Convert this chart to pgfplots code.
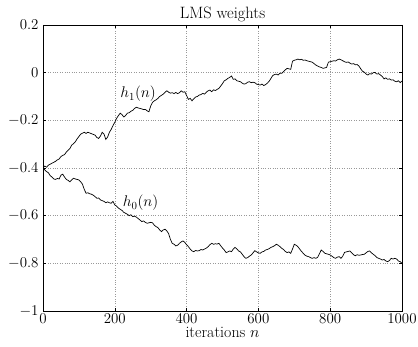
\RequirePackage{fix-cm}
\documentclass[border=0pt]{standalone}
\usepackage{pgfplots}
\pgfplotsset{compat=1.18}
\begin{document}
\begin{tikzpicture}
\begin{axis}[
  scale only axis,
  width=359bp, height=286bp,
  xmin=0, xmax=1000, ymin=-1, ymax=0.2,
  xtick={0,200,400,600,800,1000},
  ytick={-1,-0.8,-0.6,-0.4,-0.2,0,0.2},
  /pgf/number format/1000 sep={},
  grid=major,
  grid style={dotted, gray!80, line width=0.5pt},
  tick align=inside,
  major tick length=3bp,
  axis line style={line width=0.8pt},
  tick style={line width=0.6pt, black},
  tick label style={font=\fontsize{15}{17}\selectfont},
  yticklabel style={xshift=-1pt},
  xticklabel style={yshift=1pt},
  title={LMS weights},
  title style={font=\fontsize{16.5}{18}\selectfont, yshift=-6pt},
  xlabel={iterations $n$},
  xlabel style={font=\fontsize{16}{18}\selectfont, yshift=3pt},
]
\addplot[black, line width=0.7pt] coordinates {
(0,-0.400)(5,-0.392)(10,-0.397)(15,-0.388)(20,-0.384)(25,-0.380)(30,-0.376)(35,-0.372)(40,-0.366)(45,-0.362)
(50,-0.352)(55,-0.347)(60,-0.344)(65,-0.333)(70,-0.326)(75,-0.318)(80,-0.304)(85,-0.298)(90,-0.290)(95,-0.278)
(100,-0.268)(105,-0.258)(110,-0.254)(115,-0.250)(120,-0.255)(125,-0.250)(130,-0.253)(135,-0.256)(140,-0.259)(145,-0.262)
(150,-0.272)(155,-0.276)(160,-0.266)(165,-0.250)(170,-0.258)(175,-0.280)(180,-0.270)(185,-0.250)(190,-0.238)(195,-0.222)
(200,-0.208)(205,-0.192)(210,-0.180)(215,-0.170)(220,-0.176)(225,-0.186)(230,-0.180)(235,-0.170)(240,-0.168)(245,-0.162)
(250,-0.158)(255,-0.150)(260,-0.145)(265,-0.148)(270,-0.150)(275,-0.152)(280,-0.155)(285,-0.154)(290,-0.160)(295,-0.164)
(300,-0.140)(305,-0.125)(310,-0.118)(315,-0.114)(320,-0.108)(325,-0.100)(330,-0.095)(335,-0.090)(340,-0.082)(345,-0.076)
(350,-0.082)(355,-0.086)(360,-0.084)(365,-0.088)(370,-0.083)(375,-0.088)(380,-0.084)(385,-0.076)(390,-0.082)(395,-0.080)
(400,-0.096)(405,-0.112)(410,-0.108)(415,-0.118)(420,-0.110)(425,-0.102)(430,-0.100)(435,-0.094)(440,-0.092)(445,-0.087)
(450,-0.090)(455,-0.082)(460,-0.076)(465,-0.073)(470,-0.080)(475,-0.072)(480,-0.075)(485,-0.070)(490,-0.066)(495,-0.056)
(500,-0.046)(505,-0.034)(510,-0.030)(515,-0.024)(520,-0.020)(525,-0.014)(530,-0.028)(535,-0.026)(540,-0.034)(545,-0.036)
(550,-0.038)(555,-0.044)(560,-0.048)(565,-0.046)(570,-0.040)(575,-0.038)(580,-0.042)(585,-0.040)(590,-0.042)(595,-0.048)
(600,-0.050)(605,-0.052)(610,-0.048)(615,-0.054)(620,-0.050)(625,-0.044)(630,-0.036)(635,-0.024)(640,-0.012)(645,-0.008)
(650,-0.006)(655,-0.010)(660,-0.002)(665,-0.003)(670,0.004)(675,0.012)(680,0.018)(685,0.016)(690,0.014)(695,0.048)
(700,0.052)(705,0.054)(710,0.057)(715,0.054)(720,0.056)(725,0.052)(730,0.053)(735,0.050)(740,0.048)(745,0.046)
(750,0.044)(755,0.038)(760,0.032)(765,0.028)(770,0.024)(775,0.022)(780,0.018)(785,0.020)(790,0.022)(795,0.044)
(800,0.046)(805,0.048)(810,0.050)(815,0.049)(820,0.054)(825,0.057)(830,0.054)(835,0.050)(840,0.046)(845,0.043)
(850,0.045)(855,0.040)(860,0.036)(865,0.038)(870,0.033)(875,0.034)(880,0.028)(885,0.016)(890,0.006)(895,0.002)
(900,-0.006)(905,-0.010)(910,-0.004)(915,-0.006)(920,0.000)(925,0.001)(930,-0.006)(935,-0.004)(940,-0.010)(945,-0.016)
(950,-0.026)(955,-0.022)(960,-0.028)(965,-0.026)(970,-0.031)(975,-0.030)(980,-0.036)(985,-0.038)(990,-0.034)(995,-0.042)
(1000,-0.035)
};
\addplot[black, line width=0.7pt] coordinates {
(0,-0.400)(5,-0.408)(10,-0.415)(15,-0.420)(20,-0.432)(25,-0.438)(30,-0.446)(35,-0.448)(40,-0.444)(45,-0.446)
(50,-0.430)(55,-0.426)(60,-0.438)(65,-0.448)(70,-0.452)(75,-0.458)(80,-0.450)(85,-0.443)(90,-0.446)(95,-0.448)
(100,-0.450)(105,-0.458)(110,-0.468)(115,-0.490)(120,-0.506)(125,-0.504)(130,-0.508)(135,-0.510)(140,-0.514)(145,-0.520)
(150,-0.527)(155,-0.526)(160,-0.534)(165,-0.537)(170,-0.540)(175,-0.546)(180,-0.542)(185,-0.546)(190,-0.548)(195,-0.540)
(200,-0.555)(205,-0.560)(210,-0.568)(215,-0.573)(220,-0.578)(225,-0.586)(230,-0.590)(235,-0.594)(240,-0.600)(245,-0.596)
(250,-0.604)(255,-0.602)(260,-0.606)(265,-0.612)(270,-0.618)(275,-0.625)(280,-0.622)(285,-0.628)(290,-0.632)(295,-0.630)
(300,-0.628)(305,-0.630)(310,-0.640)(315,-0.646)(320,-0.650)(325,-0.660)(330,-0.667)(335,-0.660)(340,-0.657)(345,-0.664)
(350,-0.676)(355,-0.700)(360,-0.716)(365,-0.720)(370,-0.727)(375,-0.724)(380,-0.716)(385,-0.710)(390,-0.706)(395,-0.712)
(400,-0.722)(405,-0.730)(410,-0.740)(415,-0.748)(420,-0.751)(425,-0.746)(430,-0.748)(435,-0.747)(440,-0.742)(445,-0.744)
(450,-0.740)(455,-0.736)(460,-0.730)(465,-0.722)(470,-0.716)(475,-0.720)(480,-0.718)(485,-0.719)(490,-0.716)(495,-0.726)
(500,-0.736)(505,-0.744)(510,-0.755)(515,-0.752)(520,-0.748)(525,-0.751)(530,-0.740)(535,-0.733)(540,-0.740)(545,-0.748)
(550,-0.752)(555,-0.762)(560,-0.772)(565,-0.779)(570,-0.776)(575,-0.770)(580,-0.765)(585,-0.756)(590,-0.747)(595,-0.752)
(600,-0.756)(605,-0.758)(610,-0.752)(615,-0.750)(620,-0.744)(625,-0.742)(630,-0.738)(635,-0.733)(640,-0.730)(645,-0.726)
(650,-0.720)(655,-0.724)(660,-0.730)(665,-0.737)(670,-0.742)(675,-0.750)(680,-0.755)(685,-0.752)(690,-0.758)(695,-0.740)
(700,-0.720)(705,-0.724)(710,-0.730)(715,-0.740)(720,-0.750)(725,-0.758)(730,-0.766)(735,-0.770)(740,-0.772)(745,-0.776)
(750,-0.779)(755,-0.776)(760,-0.779)(765,-0.775)(770,-0.760)(775,-0.744)(780,-0.750)(785,-0.758)(790,-0.760)(795,-0.762)
(800,-0.765)(805,-0.770)(810,-0.776)(815,-0.779)(820,-0.774)(825,-0.772)(830,-0.779)(835,-0.770)(840,-0.754)(845,-0.752)
(850,-0.750)(855,-0.748)(860,-0.756)(865,-0.764)(870,-0.768)(875,-0.764)(880,-0.766)(885,-0.765)(890,-0.763)(895,-0.762)
(900,-0.756)(905,-0.750)(910,-0.748)(915,-0.756)(920,-0.762)(925,-0.768)(930,-0.776)(935,-0.779)(940,-0.782)(945,-0.786)
(950,-0.784)(955,-0.790)(960,-0.793)(965,-0.788)(970,-0.779)(975,-0.782)(980,-0.779)(985,-0.782)(990,-0.790)(995,-0.793)
(1000,-0.800)
};
\node[font=\fontsize{15.5}{17}\selectfont] at (axis cs:265,-0.09) {$h_1(n)$};
\node[font=\fontsize{15.5}{17}\selectfont] at (axis cs:272,-0.547) {$h_0(n)$};
\end{axis}
\pgfresetboundingbox
\path[use as bounding box] ([xshift=-43bp,yshift=-36bp]current axis.south west) rectangle ([xshift=16bp,yshift=25bp]current axis.north east);
\end{tikzpicture}
\end{document}
